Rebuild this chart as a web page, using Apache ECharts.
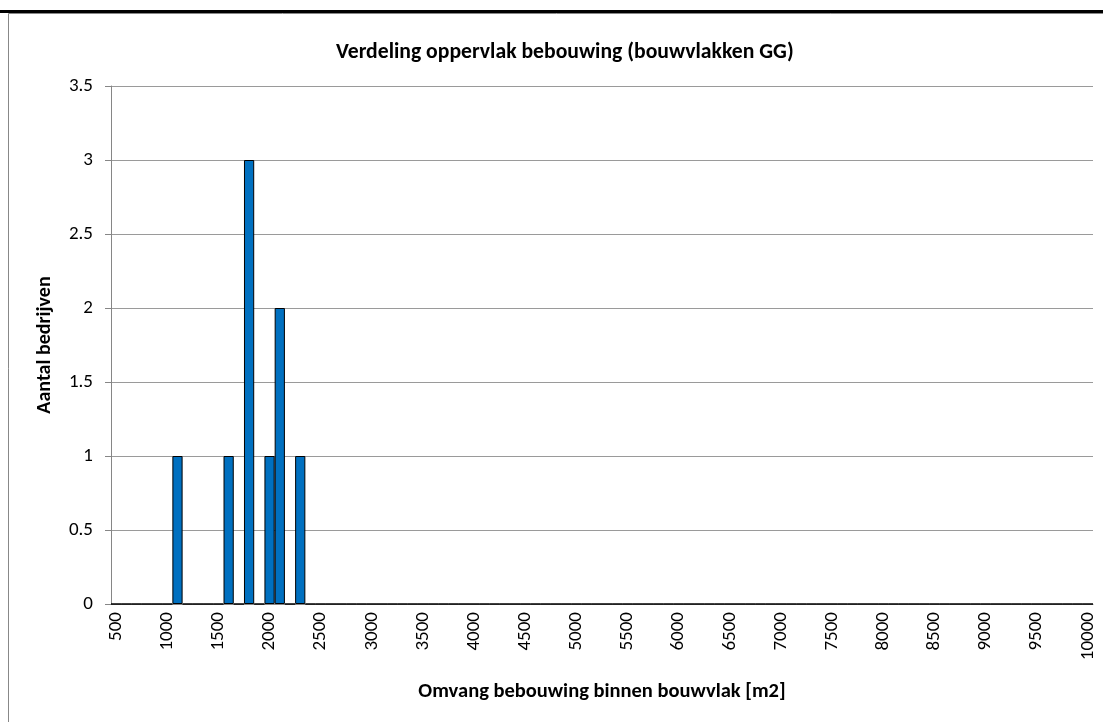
<!DOCTYPE html>
<html>
<head>
<meta charset="utf-8">
<style>
  html, body { margin: 0; padding: 0; background: #fff; }
  #main { width: 1103px; height: 722px; }
</style>
<script src="https://cdn.jsdelivr.net/npm/echarts@6/dist/echarts.min.js"></script>
</head>
<body>
<div id="main"></div>
<script>
// bins van 500 t/m 10000 in stappen van 100
var categories = [];
for (var c = 500; c <= 10000; c += 100) categories.push(String(c));

// aantal bedrijven per bin (rest is 0)
var binKeys = ['1100', '1600', '1800', '2000', '2100', '2300'];
var binCounts = [1, 1, 3, 1, 2, 1];

var yTicks = { min: 0, max: 3.5, interval: 0.5 };

var values = categories.map(function (cat) {
  var i = binKeys.indexOf(cat);
  return i >= 0 ? binCounts[i] : 0;
});

var font = 'Calibri, Carlito, Lato, sans-serif';
var axisGray = '#868686';

var myChart = echarts.init(document.getElementById('main'));
myChart.setOption({
  animation: false,
  backgroundColor: '#fff',
  title: {
    text: 'Verdeling oppervlak bebouwing (bouwvlakken GG)',
    left: 331,
    top: 37,
    textStyle: { fontFamily: font, fontSize: 21.7, fontWeight: 'bold', color: '#000' }
  },
  graphic: [{
    type: 'rect',
    shape: { x: 8.5, y: 13.5, width: 1110, height: 720 },
    style: { fill: 'none', stroke: '#888', lineWidth: 1 },
    silent: true
  }, {
    type: 'rect',
    shape: { x: 0, y: 10, width: 1103, height: 3 },
    style: { fill: '#000' },
    silent: true
  }],
  grid: { left: 111, right: 10, top: 86, bottom: 118 },
  xAxis: {
    type: 'category',
    data: categories,
    name: 'Omvang bebouwing binnen bouwvlak [m2]',
    nameLocation: 'middle',
    nameGap: 77,
    nameTextStyle: { fontFamily: font, fontSize: 20.5, fontWeight: 'bold', color: '#000' },
    axisLine: { lineStyle: { color: axisGray } },
    axisTick: { interval: 0, length: 5, lineStyle: { color: axisGray } },
    axisLabel: {
      interval: 4,
      rotate: 90,
      margin: 8,
      fontFamily: font,
      fontSize: 19,
      color: '#000'
    },
    splitLine: { show: false }
  },
  yAxis: {
    type: 'value',
    min: yTicks.min,
    max: yTicks.max,
    interval: yTicks.interval,
    name: 'Aantal bedrijven',
    nameLocation: 'middle',
    nameGap: 56,
    nameTextStyle: { fontFamily: font, fontSize: 20, fontWeight: 'bold', color: '#000' },
    axisLine: { show: true, lineStyle: { color: axisGray } },
    axisTick: { show: true, length: 6, lineStyle: { color: axisGray } },
    axisLabel: { margin: 18, fontFamily: font, fontSize: 19, color: '#000' },
    splitLine: { lineStyle: { color: '#9a9a9a' } }
  },
  series: [{
    type: 'bar',
    data: values,
    barCategoryGap: '0%',
    itemStyle: { color: '#0070C0', borderColor: '#000', borderWidth: 1 }
  }]
});
</script>
</body>
</html>
